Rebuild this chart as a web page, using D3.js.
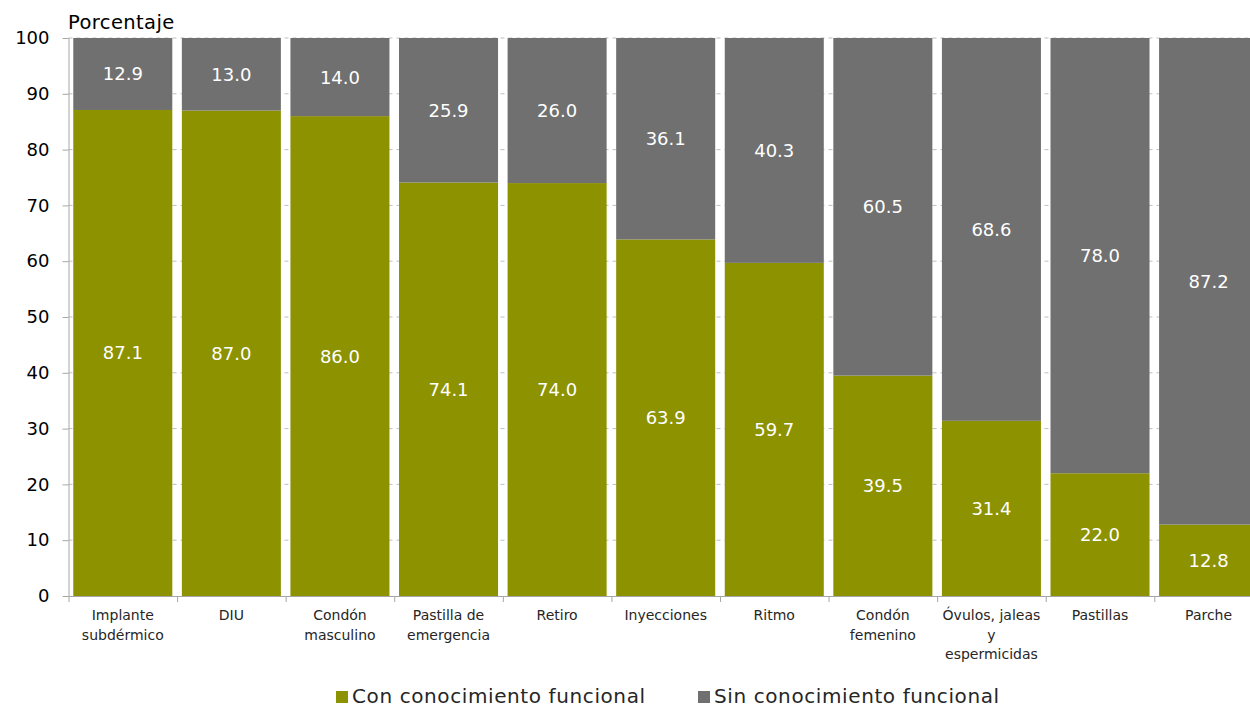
<!DOCTYPE html>
<html>
<head>
<meta charset="utf-8">
<script src="https://cdn.jsdelivr.net/npm/d3@7"></script>
<style>
  body { margin: 0; background: #fff; }
  svg text { font-family: "DejaVu Sans", "Noto Sans", sans-serif; }
</style>
</head>
<body>
<svg id="chart" width="1250" height="707"></svg>
<script>
const categories = [
  ["Implante", "subdérmico"],
  ["DIU"],
  ["Condón", "masculino"],
  ["Pastilla de", "emergencia"],
  ["Retiro"],
  ["Inyecciones"],
  ["Ritmo"],
  ["Condón", "femenino"],
  ["Óvulos, jaleas", "y", "espermicidas"],
  ["Pastillas"],
  ["Parche"]
];
const conConocimiento = [87.1, 87.0, 86.0, 74.1, 74.0, 63.9, 59.7, 39.5, 31.4, 22.0, 12.8];
const sinConocimiento = [12.9, 13.0, 14.0, 25.9, 26.0, 36.1, 40.3, 60.5, 68.6, 78.0, 87.2];
const yTicks = [0, 10, 20, 30, 40, 50, 60, 70, 80, 90, 100];
const seriesNames = ["Con conocimiento funcional", "Sin conocimiento funcional"];
const colors = ["#8c9200", "#707070"];

const svg = d3.select("#chart");
const margin = { left: 68.5, top: 38, bottom: 111 };
const plotW = 11 * 108.58;
const height = 707 - margin.top - margin.bottom;

const chart = svg.append("g")
  .attr("transform", "translate(" + margin.left + "," + margin.top + ")");

const xScale = d3.scaleBand()
  .domain(d3.range(categories.length))
  .range([0, plotW])
  .paddingInner(0.088)
  .paddingOuter(0.044);

const yScale = d3.scaleLinear()
  .domain([0, 100])
  .range([height, 0]);

// gridlines
chart.append("g")
  .selectAll("line")
  .data(yTicks.filter(d => d > 0))
  .join("line")
  .attr("x1", 0)
  .attr("x2", plotW)
  .attr("y1", d => yScale(d))
  .attr("y2", d => yScale(d))
  .attr("stroke", "#bfbfbf")
  .attr("stroke-width", 1)
  .attr("stroke-dasharray", "4,4");

const data = categories.map((c, i) => ({ i: i, con: conConocimiento[i], sin: sinConocimiento[i] }));

chart.selectAll(".con")
  .data(data)
  .join("rect")
  .attr("class", "con")
  .attr("x", d => xScale(d.i))
  .attr("width", xScale.bandwidth())
  .attr("y", d => yScale(d.con))
  .attr("height", d => height - yScale(d.con))
  .attr("fill", colors[0]);

chart.selectAll(".sin")
  .data(data)
  .join("rect")
  .attr("class", "sin")
  .attr("x", d => xScale(d.i))
  .attr("width", xScale.bandwidth())
  .attr("y", d => yScale(d.con + d.sin))
  .attr("height", d => yScale(d.con) - yScale(d.con + d.sin))
  .attr("fill", colors[1]);

// value labels
chart.selectAll(".lbl-con")
  .data(data)
  .join("text")
  .attr("class", "lbl-con")
  .attr("x", d => xScale(d.i) + xScale.bandwidth() / 2)
  .attr("y", d => yScale(d.con / 2))
  .attr("dy", "0.36em")
  .attr("text-anchor", "middle")
  .attr("fill", "#fff")
  .attr("font-size", 18)
  .text(d => d.con.toFixed(1));

chart.selectAll(".lbl-sin")
  .data(data)
  .join("text")
  .attr("class", "lbl-sin")
  .attr("x", d => xScale(d.i) + xScale.bandwidth() / 2)
  .attr("y", d => yScale(d.con + d.sin / 2))
  .attr("dy", "0.36em")
  .attr("text-anchor", "middle")
  .attr("fill", "#fff")
  .attr("font-size", 18)
  .text(d => d.sin.toFixed(1));

// y axis
const yAxis = chart.append("g")
  .call(d3.axisLeft(yScale).tickValues(yTicks).tickSize(6).tickPadding(13));
yAxis.select(".domain").attr("stroke", "#a6a6a6").attr("d", "M0.5," + height + "V0");
yAxis.selectAll(".tick line").attr("stroke", "#a6a6a6");
yAxis.selectAll(".tick text")
  .attr("font-size", 18)
  .attr("fill", "#000");

// x axis with ticks at category boundaries
const xAxisG = chart.append("g").attr("transform", "translate(0," + height + ")");
xAxisG.append("line")
  .attr("x1", 0).attr("x2", plotW)
  .attr("y1", 0.5).attr("y2", 0.5)
  .attr("stroke", "#a6a6a6");
xAxisG.selectAll(".bt")
  .data(d3.range(categories.length + 1))
  .join("line")
  .attr("class", "bt")
  .attr("x1", i => i * xScale.step() + 0.5)
  .attr("x2", i => i * xScale.step() + 0.5)
  .attr("y1", 0)
  .attr("y2", 6)
  .attr("stroke", "#a6a6a6");

const xl = xAxisG.selectAll(".xl")
  .data(data)
  .join("text")
  .attr("class", "xl")
  .attr("x", d => xScale(d.i) + xScale.bandwidth() / 2)
  .attr("y", 24)
  .attr("text-anchor", "middle")
  .attr("font-size", 14)
  .attr("fill", "#262626");
xl.selectAll("tspan")
  .data(d => categories[d.i].map(t => ({ t: t, x: xScale(d.i) + xScale.bandwidth() / 2 })))
  .join("tspan")
  .attr("x", d => d.x)
  .attr("dy", (d, j) => j === 0 ? 0 : 19.5)
  .text(d => d.t);

// axis title
svg.append("text")
  .attr("x", 68)
  .attr("y", 29)
  .attr("font-size", 19.5)
  .attr("letter-spacing", 0.4)
  .attr("fill", "#000")
  .text("Porcentaje");

// legend
const legendPos = [336, 698];
const legend = svg.append("g");
seriesNames.forEach((name, i) => {
  legend.append("rect")
    .attr("x", legendPos[i])
    .attr("y", 691)
    .attr("width", 12)
    .attr("height", 12)
    .attr("fill", colors[i]);
  legend.append("text")
    .attr("x", legendPos[i] + 16)
    .attr("y", 703)
    .attr("font-size", 20)
    .attr("letter-spacing", 0.6)
    .attr("fill", "#262626")
    .text(name);
});
</script>
</body>
</html>
